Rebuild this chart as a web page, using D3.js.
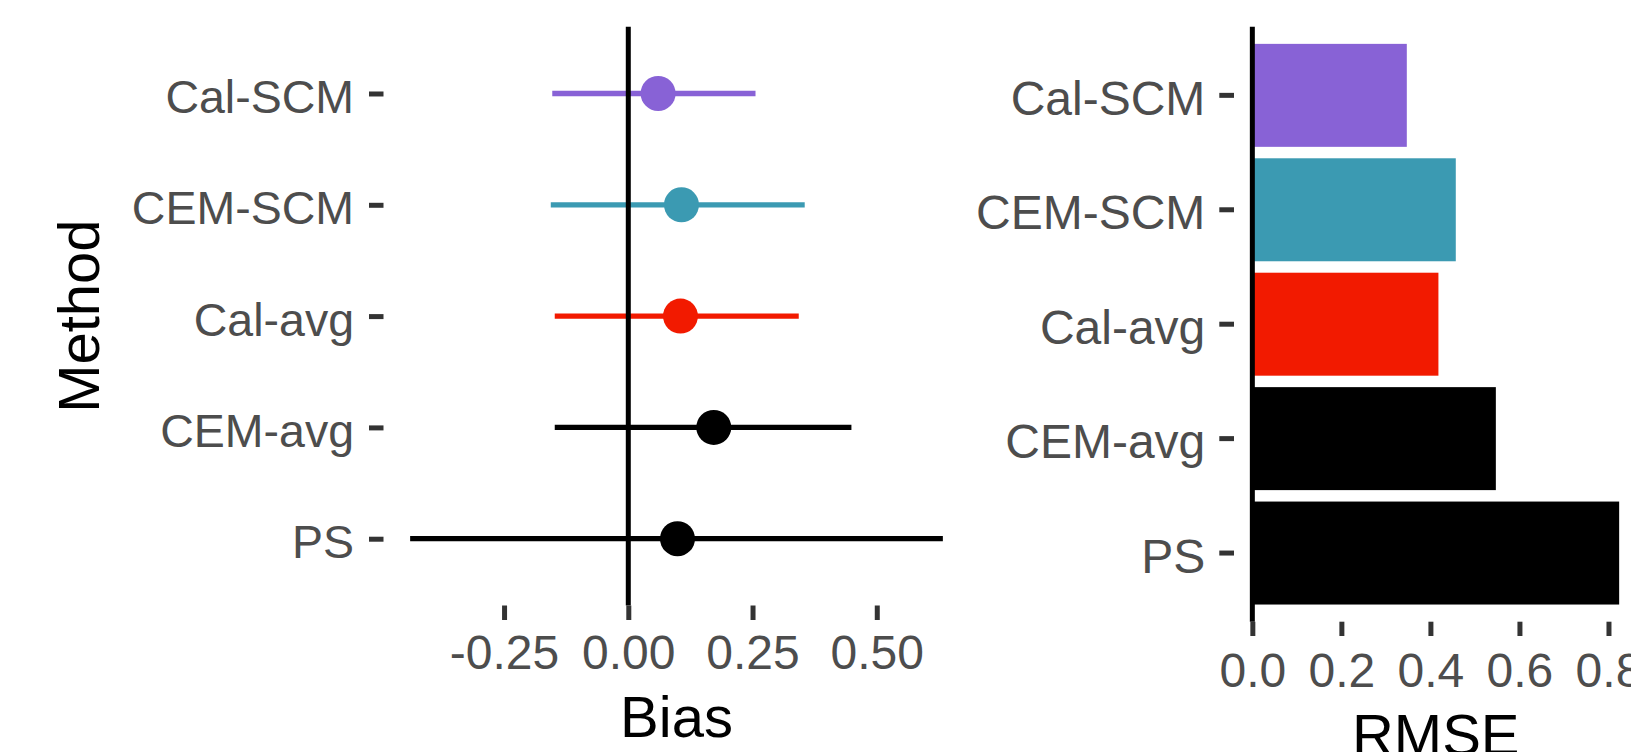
<!DOCTYPE html>
<html>
<head>
<meta charset="utf-8">
<script src="https://cdn.jsdelivr.net/npm/d3@7"></script>
<style>
  body { margin: 0; background: #fff; }
  svg { display: block; font-family: "Liberation Sans", Arial, sans-serif; }
</style>
</head>
<body>
<div id="chart"></div>
<script>
// data
var methods = ["Cal-SCM", "CEM-SCM", "Cal-avg", "CEM-avg", "PS"];
var biasEst = [0.060, 0.107, 0.105, 0.172, 0.099];
var biasLo = [-0.153, -0.156, -0.148, -0.148, -0.439];
var biasHi = [0.256, 0.355, 0.343, 0.449, 0.633];
var rmse = [0.347, 0.457, 0.418, 0.547, 0.824];
var methodColors = ["#8862D6", "#3B9AB2", "#F21A00", "#000000", "#000000"];
var biasTicks = [-0.25, 0, 0.25, 0.5];
var rmseTicks = [0, 0.2, 0.4, 0.6, 0.8];

var width = 1631, height = 752;

var svg = d3.select("#chart").append("svg")
    .attr("width", width)
    .attr("height", height);

var rows = methods.map(function(m, i) {
    return { method: m, est: biasEst[i], lo: biasLo[i], hi: biasHi[i], rmse: rmse[i], color: methodColors[i] };
});

function styleAxis(g, size) {
    g.select(".domain").remove();
    g.selectAll(".tick line").attr("stroke", "#333333").attr("stroke-width", 5);
    g.selectAll(".tick text")
        .attr("fill", "#4D4D4D")
        .style("font-size", size + "px");
}

// ---- left panel: bias with intervals ----
var left = { left: 383.5, right: 969.5, top: 26.7, bottom: 605.5 };

var loMin = d3.min(biasLo), hiMax = d3.max(biasHi),
    pad = (hiMax - loMin) * 0.05;
var x = d3.scaleLinear()
    .domain([loMin - pad, hiMax + pad])
    .range([left.left, left.right]);
var y = d3.scalePoint()
    .domain(methods)
    .range([left.top, left.bottom])
    .padding(0.6);

var gl = svg.append("g");

gl.selectAll("line.err")
    .data(rows)
    .enter().append("line")
    .attr("class", "err")
    .attr("x1", function(d) { return x(d.lo); })
    .attr("x2", function(d) { return x(d.hi); })
    .attr("y1", function(d) { return y(d.method); })
    .attr("y2", function(d) { return y(d.method); })
    .attr("stroke", function(d) { return d.color; })
    .attr("stroke-width", 5.3);

// zero line
gl.append("line")
    .attr("x1", x(0)).attr("x2", x(0))
    .attr("y1", left.top).attr("y2", left.bottom)
    .attr("stroke", "#000").attr("stroke-width", 5);

gl.selectAll("circle")
    .data(rows)
    .enter().append("circle")
    .attr("cx", function(d) { return x(d.est); })
    .attr("cy", function(d) { return y(d.method); })
    .attr("r", 17.5)
    .attr("fill", function(d) { return d.color; });

var xAxisL = gl.append("g")
    .attr("transform", "translate(0," + left.bottom + ")")
    .call(d3.axisBottom(x).tickValues(biasTicks).tickSize(14.5).tickPadding(15)
        .tickFormat(function(d) { return d.toFixed(2); }));
styleAxis(xAxisL, 48);

var yAxisL = gl.append("g")
    .attr("transform", "translate(" + left.left + ",0)")
    .call(d3.axisLeft(y).tickSize(14.5).tickPadding(15));
styleAxis(yAxisL, 46.5);
yAxisL.selectAll(".tick text").attr("dy", "0.41em");

gl.append("text")
    .attr("x", (left.left + left.right) / 2)
    .attr("y", 736.7)
    .attr("text-anchor", "middle")
    .style("font-size", "58px")
    .text("Bias");

gl.append("text")
    .attr("transform", "translate(99.3," + (left.top + left.bottom) / 2 + ") rotate(-90)")
    .attr("text-anchor", "middle")
    .style("font-size", "58px")
    .text("Method");

// ---- right panel: RMSE bars ----
var right = { left: 1234, right: 1637.5, top: 26.7, bottom: 621.7 };

var rMax = d3.max(rmse);
var xr = d3.scaleLinear()
    .domain([-rMax * 0.05, rMax * 1.05])
    .range([right.left, right.right]);
var yr = d3.scaleBand()
    .domain(methods)
    .range([right.top, right.bottom])
    .paddingInner(0.1)
    .paddingOuter(0.15);

var gr = svg.append("g");

gr.selectAll("rect")
    .data(rows)
    .enter().append("rect")
    .attr("x", xr(0))
    .attr("y", function(d) { return yr(d.method); })
    .attr("width", function(d) { return xr(d.rmse) - xr(0); })
    .attr("height", yr.bandwidth())
    .attr("fill", function(d) { return d.color; });

gr.append("line")
    .attr("x1", xr(0)).attr("x2", xr(0))
    .attr("y1", right.top).attr("y2", right.bottom)
    .attr("stroke", "#000").attr("stroke-width", 5);

var xAxisR = gr.append("g")
    .attr("transform", "translate(0," + right.bottom + ")")
    .call(d3.axisBottom(xr).tickValues(rmseTicks).tickSize(14.3).tickPadding(16.6)
        .tickFormat(function(d) { return d.toFixed(1); }));
styleAxis(xAxisR, 48);

var yAxisR = gr.append("g")
    .attr("transform", "translate(" + right.left + ",0)")
    .call(d3.axisLeft(yr).tickSize(14.7).tickPadding(14));
styleAxis(yAxisR, 48);
yAxisR.selectAll(".tick text").attr("dy", "0.41em");

gr.append("text")
    .attr("x", (right.left + right.right) / 2)
    .attr("y", 755)
    .attr("text-anchor", "middle")
    .style("font-size", "58px")
    .text("RMSE");
</script>
</body>
</html>
